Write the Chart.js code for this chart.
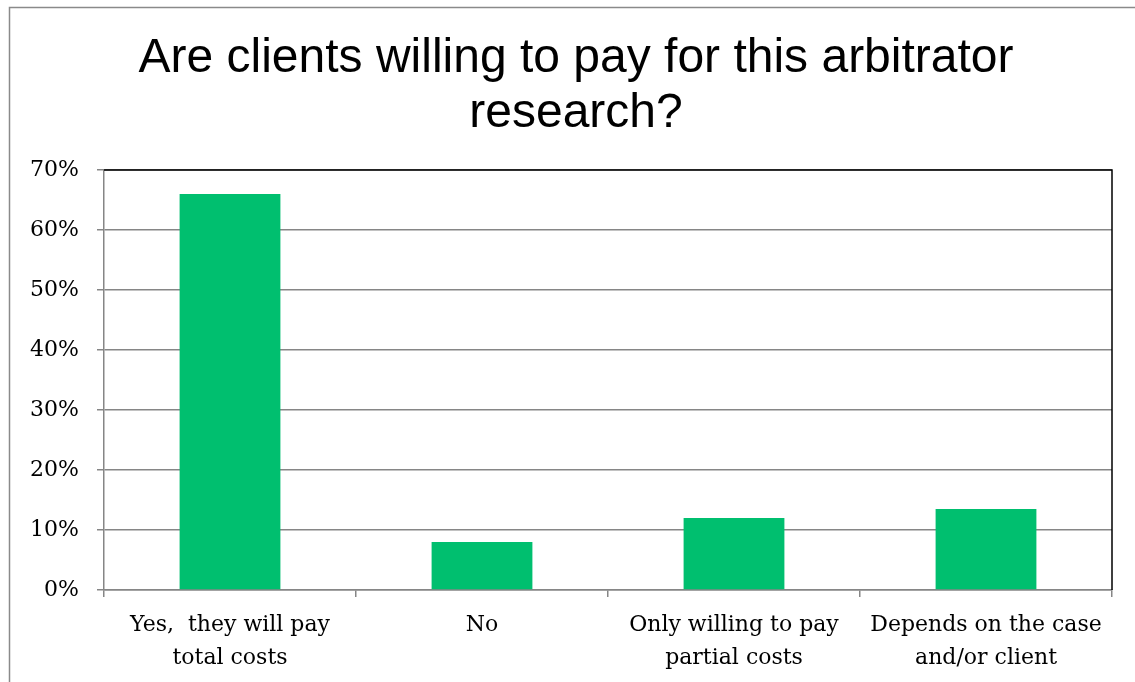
<!DOCTYPE html>
<html>
<head>
<meta charset="utf-8">
<script src="https://cdn.jsdelivr.net/npm/chart.js@4"></script>
<style>
  html, body { margin: 0; padding: 0; background: #fff; }
  #wrap { width: 1135px; height: 682px; position: relative; }
</style>
</head>
<body>
<div id="wrap"><canvas id="chart" width="1135" height="682"></canvas></div>
<script>
// ── Survey data ──
const categories = [
  ['Yes,  they will pay', 'total costs'],
  ['No'],
  ['Only willing to pay', 'partial costs'],
  ['Depends on the case', 'and/or client']
];
const shares = [66, 8, 12, 13.5];
const yTicks = [0, 10, 20, 30, 40, 50, 60, 70];
const titleLines = ['Are clients willing to pay for this arbitrator', 'research?'];

const GREEN = '#00bf6f';
const GRID = '#868686';
const SERIF = '"DejaVu Serif", "Liberation Serif", serif';

// Outer chart frame + title + black top/right plot border
const frame = {
  id: 'frame',
  beforeDraw(chart) {
    const { ctx } = chart;
    ctx.save();
    ctx.strokeStyle = '#8a8a8a';
    ctx.lineWidth = 1.5;
    ctx.beginPath();
    ctx.moveTo(9.5, chart.height);
    ctx.lineTo(9.5, 7.5);
    ctx.lineTo(chart.width, 7.5);
    ctx.stroke();

    ctx.fillStyle = '#000';
    ctx.font = '48px "Liberation Sans", Arial, sans-serif';
    ctx.textAlign = 'center';
    ctx.textBaseline = 'alphabetic';
    titleLines.forEach((t, i) => ctx.fillText(t, 576, 72 + i * 55));
    ctx.restore();
  },
  afterDraw(chart) {
    const { ctx, chartArea: a } = chart;
    ctx.save();
    ctx.strokeStyle = '#000';
    ctx.lineWidth = 1.5;
    ctx.beginPath();
    ctx.moveTo(a.left, a.top);
    ctx.lineTo(a.right, a.top);
    ctx.lineTo(a.right, a.bottom);
    ctx.stroke();
    ctx.restore();
  }
};

new Chart(document.getElementById('chart'), {
  type: 'bar',
  data: {
    labels: categories,
    datasets: [{
      data: shares,
      backgroundColor: GREEN,
      borderWidth: 0,
      barPercentage: 0.4,
      categoryPercentage: 1
    }]
  },
  options: {
    responsive: false,
    animation: false,
    layout: { padding: { top: 170, right: 23, left: 0, bottom: 0 } },
    plugins: { legend: { display: false }, tooltip: { enabled: false }, title: { display: false } },
    scales: {
      x: {
        grid: { display: true, drawOnChartArea: false, drawTicks: true, tickLength: 7, color: GRID, offset: true, lineWidth: 1.5 },
        border: { display: true, color: GRID, width: 1.5 },
        ticks: { color: '#000', padding: 12, font: { family: SERIF, size: 22, lineHeight: 1.5 }, maxRotation: 0, autoSkip: false },
        afterFit(scale) { scale.height = 92; }
      },
      y: {
        min: 0,
        max: 70,
        afterBuildTicks(scale) { scale.ticks = yTicks.map(v => ({ value: v })); },
        grid: { color: GRID, lineWidth: 1.5, tickLength: 7, drawTicks: true },
        border: { display: true, color: GRID, width: 1.5 },
        ticks: { color: '#000', padding: 18, font: { family: SERIF, size: 22 }, callback: v => v + '%' },
        afterFit(scale) { scale.width = 104; }
      }
    }
  },
  plugins: [frame]
});
</script>
</body>
</html>
